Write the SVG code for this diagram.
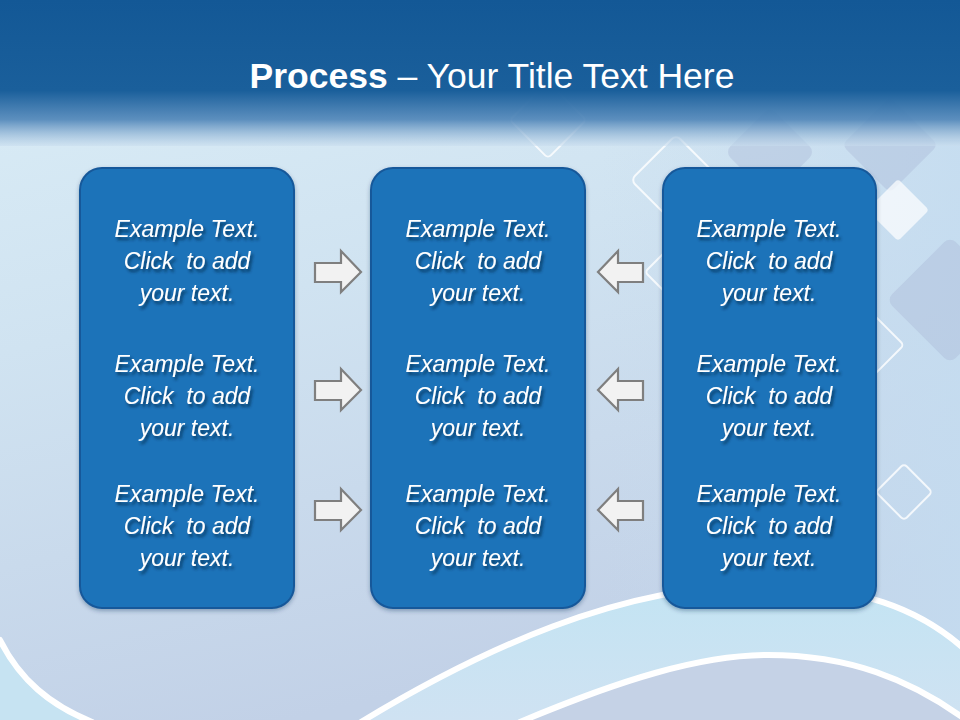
<svg xmlns="http://www.w3.org/2000/svg" width="960" height="720" viewBox="0 0 960 720">
  <defs>
    <linearGradient id="bg" x1="0" y1="0" x2="0.3" y2="1">
      <stop offset="0" stop-color="#dbeef7"/>
      <stop offset="0.45" stop-color="#d0e3f1"/>
      <stop offset="1" stop-color="#c2d1e7"/>
    </linearGradient>
    <linearGradient id="bgR" x1="0" y1="0" x2="1" y2="0">
      <stop offset="0" stop-color="#c8dcef" stop-opacity="0"/>
      <stop offset="1" stop-color="#c4dcf0" stop-opacity="0.8"/>
    </linearGradient>
    <linearGradient id="hdr" x1="0" y1="0" x2="0" y2="1">
      <stop offset="0" stop-color="#135896"/>
      <stop offset="0.62" stop-color="#1a5f9b"/>
      <stop offset="0.82" stop-color="#4f85b8" stop-opacity="0.9"/>
      <stop offset="1" stop-color="#c9ddee" stop-opacity="0.55"/>
    </linearGradient>
    <linearGradient id="glow" x1="0" y1="0" x2="0" y2="1">
      <stop offset="0" stop-color="#c3e4f3"/>
      <stop offset="1" stop-color="#cfe2f2"/>
    </linearGradient>
    <filter id="ts" x="-10%" y="-30%" width="130%" height="170%">
      <feGaussianBlur in="SourceAlpha" stdDeviation="1.8"/>
      <feOffset dx="2" dy="2.5" result="b"/>
      <feFlood flood-color="#0a2a4a" flood-opacity="0.8"/>
      <feComposite in2="b" operator="in"/>
      <feMerge><feMergeNode/><feMergeNode in="SourceGraphic"/></feMerge>
    </filter>
    <filter id="bs" x="-10%" y="-10%" width="120%" height="120%">
      <feGaussianBlur in="SourceAlpha" stdDeviation="2"/>
      <feOffset dx="0" dy="2" result="b"/>
      <feFlood flood-color="#0b2d55" flood-opacity="0.35"/>
      <feComposite in2="b" operator="in"/>
      <feMerge><feMergeNode/><feMergeNode in="SourceGraphic"/></feMerge>
    </filter>
  </defs>
  <style>
    .box { fill: #1c73b9; stroke: #17589a; stroke-width: 2; }
    .txt { font-family: "Liberation Sans", Arial, sans-serif; font-style: italic; font-size: 23px; fill: #ffffff; text-anchor: middle; white-space: pre; }
    .arrow { fill: #f2f2f2; stroke: #7f7f7f; stroke-width: 2.2; stroke-linejoin: miter; }
    .dOut { fill: none; stroke: #ffffff; stroke-width: 2; stroke-opacity: 0.8; }
    .dFill { fill: #aab9d6; fill-opacity: 0.4; }
    .dWhite { fill: #ffffff; fill-opacity: 0.7; }
    .wave { fill: none; stroke: #ffffff; stroke-width: 6; stroke-linecap: round; }
  </style>

  <!-- background -->
  <rect x="0" y="0" width="960" height="720" fill="url(#bg)"/>
  <rect x="600" y="140" width="360" height="580" fill="url(#bgR)"/>

  <!-- decorative diamonds -->
  <g id="decor">
    <rect class="dFill" x="-32" y="-32" width="64" height="64" rx="8" transform="translate(770 152) rotate(45)"/>
    <rect class="dFill" x="-45" y="-45" width="90" height="90" rx="8" transform="translate(950 300) rotate(45)"/>
    <rect class="dFill" x="-34" y="-34" width="68" height="68" rx="6" transform="translate(890 145) rotate(45)"/>
    <rect class="dWhite" x="-22" y="-22" width="44" height="44" rx="4" transform="translate(898 210) rotate(45)"/>
    <rect class="dOut" x="-32" y="-32" width="64" height="64" rx="6" transform="translate(676 180) rotate(45)"/>
    <rect class="dOut" x="-24" y="-24" width="48" height="48" rx="4" transform="translate(870 345) rotate(45)"/>
    <rect class="dOut" x="-20" y="-20" width="40" height="40" rx="4" transform="translate(904 492) rotate(45)"/>
    <rect class="dOut" x="-22" y="-22" width="44" height="44" rx="4" transform="translate(676 272) rotate(45)"/>
    <rect class="dOut" x="-27" y="-27" width="54" height="54" rx="4" transform="translate(548 120) rotate(45)"/>
  </g>

  <!-- header band -->
  <rect x="0" y="0" width="960" height="146" fill="url(#hdr)"/>

  <!-- bottom waves -->
  <g id="waves">
    <path d="M361 720 C 480 650, 620 585, 760 585 C 860 585, 920 610, 960 645 L 960 720 Z" fill="url(#glow)"/>
    <path d="M520 720 C 620 680, 700 655, 768 655 C 850 655, 910 680, 960 715 L 960 720 Z" fill="#c5d2e6"/>
    <path d="M0 720 L 0 642 C 20 680, 50 705, 92 720 Z" fill="#c6e3f2"/>
    <path class="wave" d="M0 640 C 20 680, 50 705, 92 722"/>
    <path class="wave" d="M361 722 C 480 650, 620 585, 760 585 C 860 585, 920 610, 962 647"/>
    <path class="wave" d="M520 722 C 620 680, 700 655, 768 655 C 850 655, 910 680, 962 717" stroke-width="5"/>
  </g>

  <!-- title -->
  <text x="492" y="88" font-family="Liberation Sans, Arial, sans-serif" font-size="35.5" fill="#ffffff" text-anchor="middle"><tspan font-weight="bold">Process</tspan> – Your Title Text Here</text>

  <!-- nodes -->
  <g id="node-left">
    <rect class="box" x="80" y="168" width="214" height="440" rx="22" filter="url(#bs)"/>
    <g filter="url(#ts)">
      <text class="txt" x="187" y="237">Example Text.</text>
      <text class="txt" x="187" y="269" xml:space="preserve">Click  to add</text>
      <text class="txt" x="187" y="301">your text.</text>
      <text class="txt" x="187" y="372">Example Text.</text>
      <text class="txt" x="187" y="404" xml:space="preserve">Click  to add</text>
      <text class="txt" x="187" y="436">your text.</text>
      <text class="txt" x="187" y="502">Example Text.</text>
      <text class="txt" x="187" y="534" xml:space="preserve">Click  to add</text>
      <text class="txt" x="187" y="566">your text.</text>
    </g>
  </g>
  <g id="node-center">
    <rect class="box" x="371" y="168" width="214" height="440" rx="22" filter="url(#bs)"/>
    <g filter="url(#ts)">
      <text class="txt" x="478" y="237">Example Text.</text>
      <text class="txt" x="478" y="269" xml:space="preserve">Click  to add</text>
      <text class="txt" x="478" y="301">your text.</text>
      <text class="txt" x="478" y="372">Example Text.</text>
      <text class="txt" x="478" y="404" xml:space="preserve">Click  to add</text>
      <text class="txt" x="478" y="436">your text.</text>
      <text class="txt" x="478" y="502">Example Text.</text>
      <text class="txt" x="478" y="534" xml:space="preserve">Click  to add</text>
      <text class="txt" x="478" y="566">your text.</text>
    </g>
  </g>
  <g id="node-right">
    <rect class="box" x="663" y="168" width="213" height="440" rx="22" filter="url(#bs)"/>
    <g filter="url(#ts)">
      <text class="txt" x="769" y="237">Example Text.</text>
      <text class="txt" x="769" y="269" xml:space="preserve">Click  to add</text>
      <text class="txt" x="769" y="301">your text.</text>
      <text class="txt" x="769" y="372">Example Text.</text>
      <text class="txt" x="769" y="404" xml:space="preserve">Click  to add</text>
      <text class="txt" x="769" y="436">your text.</text>
      <text class="txt" x="769" y="502">Example Text.</text>
      <text class="txt" x="769" y="534" xml:space="preserve">Click  to add</text>
      <text class="txt" x="769" y="566">your text.</text>
    </g>
  </g>

  <!-- connectors (block arrows) -->
  <g id="connectors">
    <polygon class="arrow" points="315,263 341,263 341,251 361,272 341,292 341,282 315,282"/>
    <polygon class="arrow" points="315,381 341,381 341,369 361,390 341,410 341,400 315,400"/>
    <polygon class="arrow" points="315,501 341,501 341,489 361,510 341,530 341,520 315,520"/>
    <polygon class="arrow" points="643,263 618,263 618,251 598,272 618,292 618,282 643,282"/>
    <polygon class="arrow" points="643,381 618,381 618,369 598,390 618,410 618,400 643,400"/>
    <polygon class="arrow" points="643,501 618,501 618,489 598,510 618,530 618,520 643,520"/>
  </g>
</svg>
